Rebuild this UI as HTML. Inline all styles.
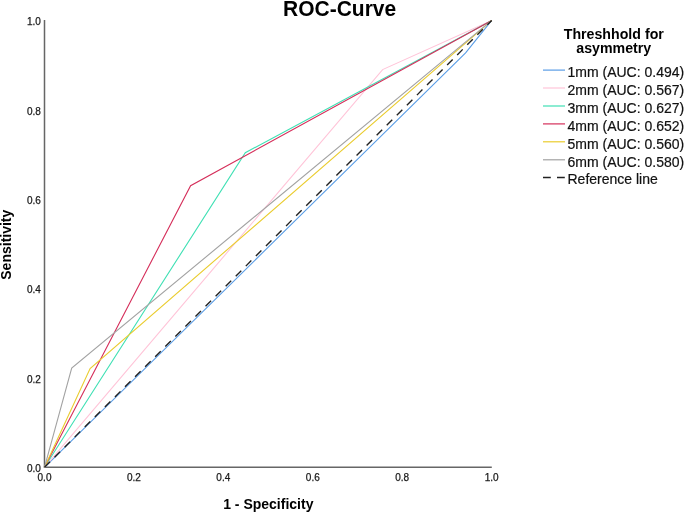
<!DOCTYPE html>
<html>
<head>
<meta charset="utf-8">
<style>
html,body{margin:0;padding:0;background:#fff;}
body{width:685px;height:513px;overflow:hidden;}
svg{display:block;will-change:transform;}
text{font-family:"Liberation Sans", sans-serif;}
</style>
</head>
<body>
<svg width="685" height="513" viewBox="0 0 685 513">
<rect width="685" height="513" fill="#fff"/>
<!-- title -->
<text transform="translate(339.6,16.4) scale(1,1.08)" font-size="21" font-weight="bold" fill="#000" text-anchor="middle">ROC-Curve</text>
<!-- axes -->
<line x1="44.5" y1="20" x2="44.5" y2="467.3" stroke="#666" stroke-width="1.5"/>
<line x1="43.75" y1="467.3" x2="491.8" y2="467.3" stroke="#666" stroke-width="1.5"/>
<!-- y tick labels -->
<g font-size="10" fill="#1a1a1a" stroke="#1a1a1a" stroke-width="0.25" text-anchor="end">
<text x="40.8" y="25.1">1.0</text>
<text x="40.8" y="114.6">0.8</text>
<text x="40.8" y="204">0.6</text>
<text x="40.8" y="293.4">0.4</text>
<text x="40.8" y="382.9">0.2</text>
<text x="40.8" y="472.4">0.0</text>
</g>
<!-- x tick labels -->
<g font-size="10" fill="#1a1a1a" stroke="#1a1a1a" stroke-width="0.25" text-anchor="middle">
<text x="44.5" y="481.3">0.0</text>
<text x="133.9" y="481.3">0.2</text>
<text x="223.3" y="481.3">0.4</text>
<text x="312.8" y="481.3">0.6</text>
<text x="402.2" y="481.3">0.8</text>
<text x="491.6" y="481.3">1.0</text>
</g>
<!-- axis titles -->
<text x="268.3" y="509" font-size="14" font-weight="bold" fill="#000" text-anchor="middle">1 - Specificity</text>
<text transform="translate(11.0,244.7) rotate(-90)" font-size="14" font-weight="bold" fill="#000" text-anchor="middle">Sensitivity</text>
<!-- curves -->
<g fill="none" stroke-width="1.1" stroke-linejoin="miter">
<polyline points="44.5,467.3 465.6,52.9 491.7,20.4" stroke="#5a9de6"/>
<polyline points="44.5,467.3 382.6,69.6 491.7,20.4" stroke="#ffc4d8"/>
<polyline points="44.5,467.3 245.3,152.7 491.7,20.4" stroke="#3fe0b4"/>
<polyline points="44.5,467.3 190.6,185.7 491.7,20.4" stroke="#d52e5a"/>
<polyline points="44.5,467.3 90.1,368.5 491.7,20.4" stroke="#eacc2e"/>
<polyline points="44.5,467.3 71.7,368.1 491.7,20.4" stroke="#a2a2a2"/>
<line x1="44.5" y1="467.3" x2="491.7" y2="20.4" stroke="#222" stroke-width="1.4" stroke-dasharray="7.8 6.43"/>
</g>
<!-- legend -->
<text x="613.8" y="38.9" font-size="14.2" font-weight="bold" fill="#000" text-anchor="middle">Threshhold for</text>
<text x="613.8" y="52.5" font-size="14.2" font-weight="bold" fill="#000" text-anchor="middle">asymmetry</text>
<g stroke-width="1.2">
<line x1="543" y1="70.1" x2="565" y2="70.1" stroke="#5a9de6"/>
<line x1="543" y1="88" x2="565" y2="88" stroke="#ffc4d8"/>
<line x1="543" y1="106" x2="565" y2="106" stroke="#3fe0b4"/>
<line x1="543" y1="123.9" x2="565" y2="123.9" stroke="#d52e5a"/>
<line x1="543" y1="141.8" x2="565" y2="141.8" stroke="#eacc2e"/>
<line x1="543" y1="159.8" x2="565" y2="159.8" stroke="#a2a2a2"/>
<line x1="543" y1="177.5" x2="565" y2="177.5" stroke="#222" stroke-width="1.5" stroke-dasharray="7.8 6.2"/>
</g>
<g font-size="14" fill="#111" stroke="#111" stroke-width="0.2">
<text x="567.5" y="76.8">1mm (AUC: 0.494)</text>
<text x="567.5" y="94.7">2mm (AUC: 0.567)</text>
<text x="567.5" y="112.7">3mm (AUC: 0.627)</text>
<text x="567.5" y="130.6">4mm (AUC: 0.652)</text>
<text x="567.5" y="148.5">5mm (AUC: 0.560)</text>
<text x="567.5" y="166.5">6mm (AUC: 0.580)</text>
<text x="567.5" y="184.4">Reference line</text>
</g>
</svg>
</body>
</html>
